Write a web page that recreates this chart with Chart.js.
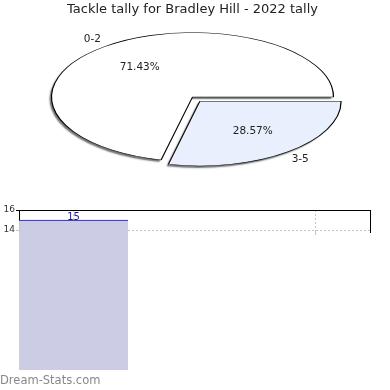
<!DOCTYPE html>
<html lang="en">
<head>
<meta charset="UTF-8">
<title>Tackle tally for Bradley Hill</title>
<script src="https://cdn.jsdelivr.net/npm/chart.js"></script>
<style>
  body { margin: 0; background: #fff; }
  #wrap { position: relative; width: 390px; height: 390px; }
  #wrap canvas { position: absolute; left: 0; top: 0; }
  #credit {
    position: absolute; left: 0; top: 375px;
    font: 11.5px "DejaVu Sans"; line-height: 11.5px; color: #888;
  }
</style>
</head>
<body>
<div id="wrap">
  <canvas id="pieChart" width="390" height="390"></canvas>
  <canvas id="barChart" width="390" height="390"></canvas>
  <div id="credit">Dream-Stats.com</div>
</div>
<script>
// Pie: games by tackle count
var groups = ['0-2', '3-5'];
var games = [5, 2];

// Bar: season tally
var seasons = [2022];
var tallies = [15];
var yTicks = [14, 16];

Chart.defaults.font.family = '"DejaVu Sans"';
Chart.defaults.color = '#222';

var tilt = 0.4574;   // squash the pie into an ellipse
var total = games.reduce(function (a, b) { return a + b; }, 0);

// point on a slice's mid-line, f = fraction of the radius
function slicePoint(el, f) {
  var mid = (el.startAngle + el.endAngle) / 2;
  var circ = el.endAngle - el.startAngle;
  var off = (el.options.offset || 0) / 4;
  var shift = off * (2 - Math.sin(Math.min(Math.PI, circ)));
  var r = shift + f * el.outerRadius;
  return { x: el.x + Math.cos(mid) * r, y: el.y + Math.sin(mid) * r * tilt };
}

var ellipse = {
  id: 'ellipse',
  beforeDatasetsDraw: function (chart) {
    var arcs = chart.getDatasetMeta(0).data;
    var cy = arcs[0].y;
    var ctx = chart.ctx;
    ctx.save();
    ctx.translate(0, cy);
    ctx.scale(1, tilt);
    ctx.translate(0, -cy);
    // drop shadow: fill-only copies of the slices, drawn first
    ctx.save();
    ctx.shadowColor = 'rgba(0,0,0,0.55)';
    ctx.shadowOffsetX = -2;
    ctx.shadowOffsetY = 2;
    ctx.shadowBlur = 1.5;
    arcs.forEach(function (el) {
      var copy = Object.create(el, {
        options: { value: Object.assign({}, el.options, { borderWidth: 0 }) }
      });
      el.draw.call(copy, ctx);
    });
    ctx.restore();
  },
  afterDatasetsDraw: function (chart) {
    var ctx = chart.ctx;
    ctx.restore();
    ctx.save();
    ctx.font = '10.5px "DejaVu Sans"';
    ctx.fillStyle = '#222';
    ctx.textAlign = 'center';
    ctx.textBaseline = 'middle';
    chart.getDatasetMeta(0).data.forEach(function (el, i) {
      var p = slicePoint(el, 0.6);
      ctx.fillText((games[i] / total * 100).toFixed(2) + '%', p.x, p.y);
      var q = slicePoint(el, 1.14);
      ctx.fillText(groups[i], q.x, q.y);
    });
    ctx.restore();
  }
};

new Chart(document.getElementById('pieChart'), {
  type: 'pie',
  data: {
    labels: groups,
    datasets: [{
      data: games,
      backgroundColor: ['#ffffff', '#e9effc'],
      borderColor: '#000',
      borderWidth: 1.2,
      offset: [0, 47],
      clip: false
    }]
  },
  options: {
    responsive: false,
    animation: false,
    events: [],
    radius: 141,
    rotation: 90 + 360 * games[1] / total,
    layout: { padding: { top: 0, right: 5, bottom: 217, left: 0 } },
    plugins: {
      legend: { display: false },
      tooltip: { enabled: false },
      title: {
        display: true,
        text: 'Tackle tally for Bradley Hill - 2022 tally',
        color: '#222',
        font: { size: 13, weight: 'normal' },
        padding: { top: 1.5, bottom: 4 }
      }
    }
  },
  plugins: [ellipse]
});

var barLabels = {
  id: 'barLabels',
  afterDatasetsDraw: function (chart) {
    var ctx = chart.ctx;
    ctx.save();
    ctx.font = '10px "DejaVu Sans"';
    ctx.fillStyle = '#1a1a8c';
    ctx.textAlign = 'center';
    ctx.textBaseline = 'alphabetic';
    chart.getDatasetMeta(0).data.forEach(function (bar, i) {
      ctx.fillText(tallies[i], bar.x, bar.y);
    });
    ctx.restore();
  }
};

function isTop(c) { return c.tick && c.tick.value === yTicks[yTicks.length - 1]; }

new Chart(document.getElementById('barChart'), {
  type: 'bar',
  data: {
    datasets: [{
      data: seasons.map(function (s, i) { return { x: s, y: tallies[i] }; }),
      backgroundColor: 'rgb(204,204,228)',
      borderColor: '#1a1a8c',
      borderWidth: { top: 1, left: 0, right: 0, bottom: 0 },
      borderSkipped: false,
      barThickness: 109,
      clip: false
    }]
  },
  options: {
    responsive: false,
    animation: false,
    events: [],
    layout: { padding: { top: 210, right: 20, bottom: 158, left: 0 } },
    plugins: { legend: { display: false }, tooltip: { enabled: false } },
    scales: {
      x: {
        type: 'linear',
        min: 2021.775,
        max: 2023.223,
        offset: false,
        z: 1,
        ticks: { display: false, stepSize: 1, includeBounds: false },
        grid: { color: '#c4c4c4', tickLength: 3, offset: false },
        border: { display: false, dash: [2, 2] },
        afterFit: function (s) { s.height = 0; }
      },
      y: {
        min: 13.8,
        max: 16,
        z: 1,
        afterBuildTicks: function (s) { s.ticks = yTicks.map(function (v) { return { value: v }; }); },
        ticks: { font: { size: 9 }, color: '#333', padding: 1 },
        grid: {
          color: function (c) { return isTop(c) ? '#000' : '#c4c4c4'; },
          tickLength: 3
        },
        border: {
          color: '#000',
          dash: function (c) { return isTop(c) ? [] : [2, 2]; }
        },
        afterFit: function (s) { s.width = 19; }
      },
      y2: {
        display: true,
        position: 'right',
        min: 13.8,
        max: 16,
        ticks: { display: false },
        grid: { display: false },
        border: { color: '#000' },
        afterFit: function (s) { s.width = 0; }
      }
    }
  },
  plugins: [barLabels]
});
</script>
</body>
</html>
